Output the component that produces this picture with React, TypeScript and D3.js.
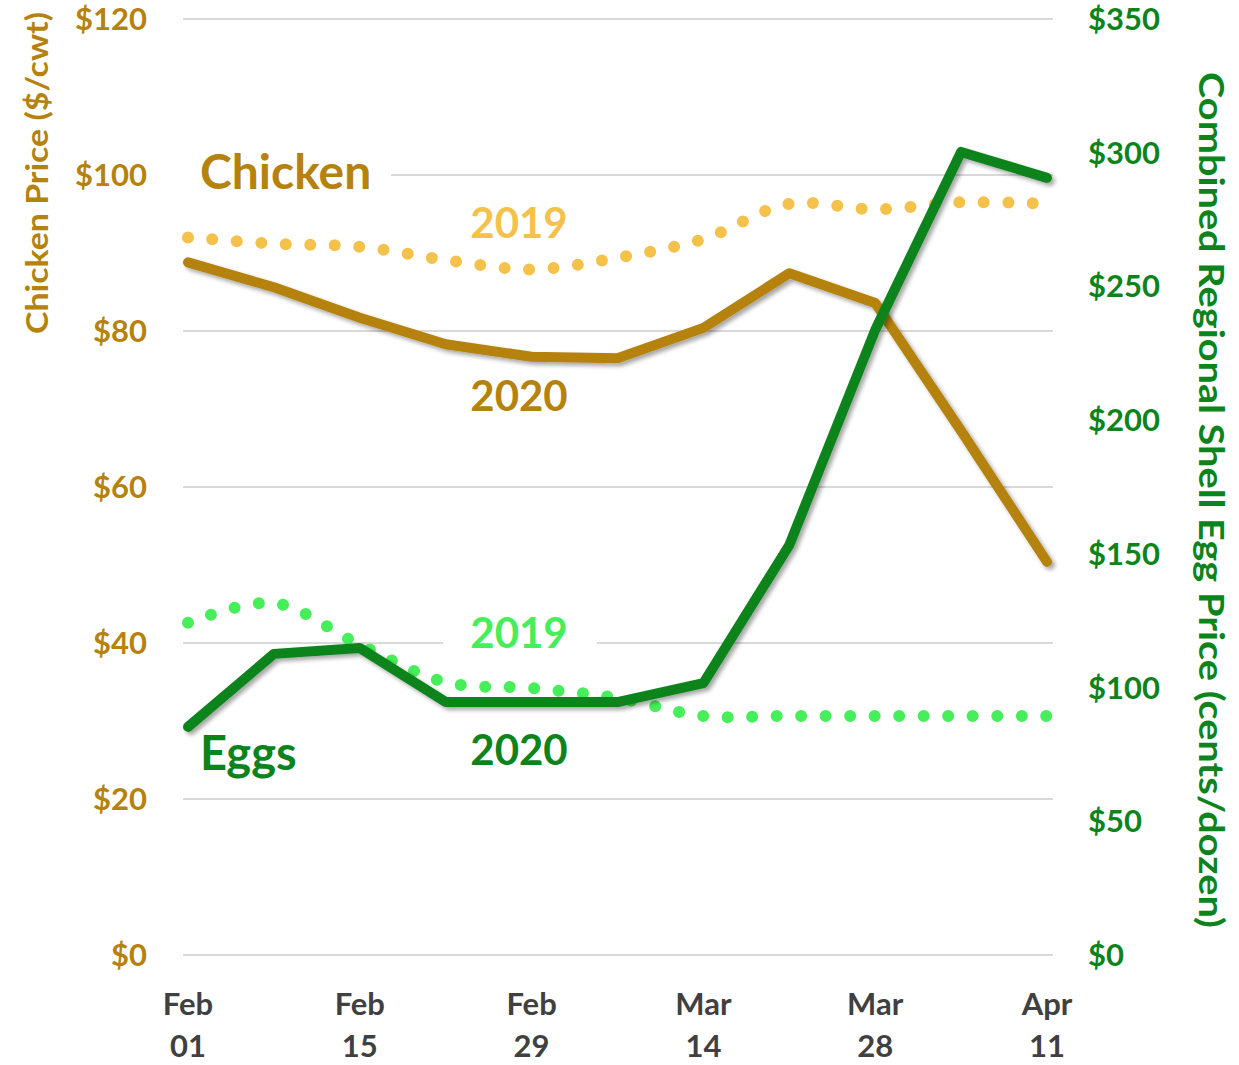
import * as d3 from 'd3';
import { useEffect, useRef } from 'react';

const weeks = ['Feb 01', 'Feb 08', 'Feb 15', 'Feb 22', 'Feb 29', 'Mar 07', 'Mar 14', 'Mar 21', 'Mar 28', 'Apr 04', 'Apr 11'];
const tickWeeks = ['Feb 01', 'Feb 15', 'Feb 29', 'Mar 14', 'Mar 28', 'Apr 11'];

const chicken2019 = [92.0, 91.2, 90.8, 89.1, 87.9, 89.4, 91.8, 96.3, 95.6, 96.5, 96.3];
const chicken2020 = [88.8, 85.6, 81.7, 78.3, 76.7, 76.5, 80.4, 87.4, 83.6, 67.2, 50.4];
const eggs2019 = [124.2, 131.6, 116.0, 102.0, 99.8, 96.1, 89.4, 89.4, 89.4, 89.4, 89.4];
const eggs2020 = [85.3, 112.6, 114.8, 94.6, 94.6, 94.6, 101.7, 153.3, 233.7, 300.3, 290.6];

const chickenTicks = [0, 20, 40, 60, 80, 100, 120];
const eggTicks = [0, 50, 100, 150, 200, 250, 300, 350];

const BROWN = '#B5820E';
const YELLOW = '#F4C14B';
const DKGREEN = '#0D831C';
const LTGREEN = '#46EE5A';
const FONT = 'Lato, "Open Sans", sans-serif';

export default function App() {
    const ref = useRef<SVGSVGElement>(null);

    useEffect(() => {
        drawChart();
    }, []);

    function drawChart() {
        const svg = d3.select(ref.current);
        svg.selectAll('*').remove();

        const left = 183, right = 1053;
        const x = d3.scalePoint().domain(weeks).range([188, 1047]);
        const yL = d3.scaleLinear().domain([0, 120]).range([955, 19]);
        const yR = d3.scaleLinear().domain([0, 350]).range([955, 19]);

        const defs = svg.append('defs');
        const f = defs.append('filter').attr('id', 'shadow')
            .attr('x', '-10%').attr('y', '-10%').attr('width', '120%').attr('height', '120%');
        f.append('feDropShadow').attr('dx', 3).attr('dy', 3).attr('stdDeviation', 2)
            .attr('flood-color', '#000').attr('flood-opacity', 0.35);

        // gridlines
        svg.append('g').selectAll('line').data(chickenTicks).enter().append('line')
            .attr('x1', left).attr('x2', right)
            .attr('y1', d => yL(d)).attr('y2', d => yL(d))
            .attr('stroke', '#d9d9d9').attr('stroke-width', 2);

        // left ticks
        svg.append('g').selectAll('text').data(chickenTicks).enter().append('text')
            .attr('x', 147).attr('y', d => yL(d) + 11)
            .attr('text-anchor', 'end')
            .attr('font-family', FONT).attr('font-weight', 700).attr('font-size', 31)
            .attr('fill', BROWN)
            .text(d => '$' + d);

        // right ticks
        svg.append('g').selectAll('text').data(eggTicks).enter().append('text')
            .attr('x', 1088).attr('y', d => yR(d) + 11)
            .attr('text-anchor', 'start')
            .attr('font-family', FONT).attr('font-weight', 700).attr('font-size', 31)
            .attr('fill', DKGREEN)
            .text(d => '$' + d);

        // axis titles
        svg.append('text')
            .attr('transform', 'translate(48,173) rotate(-90)')
            .attr('text-anchor', 'middle')
            .attr('font-family', FONT).attr('font-weight', 700).attr('font-size', 30)
            .attr('textLength', 322).attr('lengthAdjust', 'spacingAndGlyphs')
            .attr('fill', BROWN)
            .text('Chicken Price ($/cwt)');
        svg.append('text')
            .attr('transform', 'translate(1199,500) rotate(90)')
            .attr('text-anchor', 'middle')
            .attr('font-family', FONT).attr('font-weight', 700).attr('font-size', 34)
            .attr('textLength', 856).attr('lengthAdjust', 'spacingAndGlyphs')
            .attr('fill', DKGREEN)
            .text('Combined Regional Shell Egg Price (cents/dozen)');

        // x ticks
        const xt = svg.append('g').selectAll('text').data(tickWeeks).enter().append('text')
            .attr('text-anchor', 'middle')
            .attr('font-family', FONT).attr('font-weight', 700).attr('font-size', 31)
            .attr('fill', '#404040');
        xt.append('tspan').attr('x', d => x(d) as number).attr('y', 1015).text(d => d.split(' ')[0]);
        xt.append('tspan').attr('x', d => x(d) as number).attr('y', 1057).text(d => d.split(' ')[1]);

        // label backgrounds hiding gridlines
        svg.append('rect').attr('x', left).attr('y', 165).attr('width', 208).attr('height', 20).attr('fill', '#fff');
        svg.append('rect').attr('x', 443).attr('y', 633).attr('width', 154).attr('height', 20).attr('fill', '#fff');

        const dotted = (vals: number[], y: d3.ScaleLinear<number, number>, color: string) => {
            const line = d3.line<number>()
                .x((_, i) => x(weeks[i]) as number)
                .y(d => y(d))
                .curve(d3.curveCatmullRom.alpha(0.5));
            svg.append('path').attr('d', line(vals))
                .attr('fill', 'none').attr('stroke', color).attr('stroke-width', 12)
                .attr('stroke-linecap', 'round').attr('stroke-dasharray', '0 24.5');
        };
        const solid = (vals: number[], y: d3.ScaleLinear<number, number>, color: string) => {
            const line = d3.line<number>()
                .x((_, i) => x(weeks[i]) as number)
                .y(d => y(d));
            svg.append('path').attr('d', line(vals))
                .attr('fill', 'none').attr('stroke', color).attr('stroke-width', 10)
                .attr('stroke-linecap', 'round').attr('stroke-linejoin', 'round')
                .attr('filter', 'url(#shadow)');
        };

        dotted(chicken2019, yL, YELLOW);
        dotted(eggs2019, yR, LTGREEN);
        solid(chicken2020, yL, BROWN);
        solid(eggs2020, yR, DKGREEN);

        // series labels
        const labels = [
            { t: 'Chicken', x: 200, y: 189, c: BROWN, a: 'start', s: 48 },
            { t: '2019', x: 519, y: 238, c: YELLOW, a: 'middle', s: 42 },
            { t: '2020', x: 519, y: 411, c: BROWN, a: 'middle', s: 42 },
            { t: '2019', x: 519, y: 648, c: LTGREEN, a: 'middle', s: 42 },
            { t: 'Eggs', x: 200, y: 770, c: DKGREEN, a: 'start', s: 47 },
            { t: '2020', x: 519, y: 765, c: DKGREEN, a: 'middle', s: 42 },
        ];
        svg.append('g').selectAll('text').data(labels).enter().append('text')
            .attr('x', d => d.x).attr('y', d => d.y)
            .attr('text-anchor', d => d.a)
            .attr('font-family', FONT).attr('font-weight', 700).attr('font-size', d => d.s)
            .attr('fill', d => d.c)
            .text(d => d.t);
    }

    return (
        <svg ref={ref} width={1239} height={1065}
            style={{ position: 'absolute', left: 0, top: 0, background: '#fff' }} />
    );
}
